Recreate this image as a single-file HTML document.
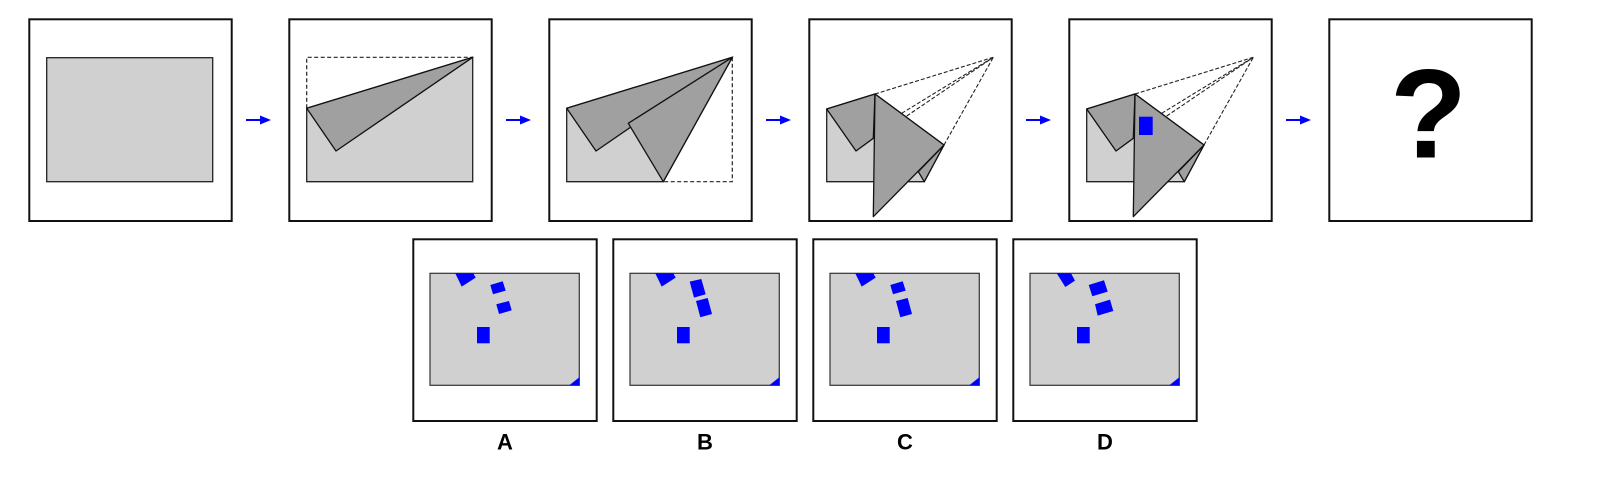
<!DOCTYPE html>
<html><head><meta charset="utf-8"><style>
html,body{margin:0;padding:0;background:#fff;width:1610px;height:490px;overflow:hidden}
svg{display:block}
text{font-family:"Liberation Sans",sans-serif;font-weight:bold}
</style></head><body>
<svg width="1610" height="490" viewBox="0 0 1610 490" xmlns="http://www.w3.org/2000/svg">
<defs>
  <g id="arrow"><line x1="0" y1="0" x2="17" y2="0" stroke="#0000ff" stroke-width="2"/><polygon points="14,-4.5 25,0 14,4.5" fill="#0000ff"/></g>
</defs>
<!-- Panel 1 -->
<g>
  <rect x="29.3" y="19.3" width="202.4" height="201.7" fill="#fff" stroke="#111" stroke-width="2"/>
  <rect x="46.7" y="57.7" width="166" height="124" fill="#d0d0d0" stroke="#222" stroke-width="1.3"/>
</g>
<use href="#arrow" x="246" y="120"/>
<!-- Panel 2 -->
<g>
  <rect x="289.3" y="19.3" width="202.4" height="201.7" fill="#fff" stroke="#111" stroke-width="2"/>
  <polygon points="306.7,108.3 472.7,57.3 472.7,181.7 306.7,181.7" fill="#d0d0d0" stroke="#222" stroke-width="1.3"/>
  <polyline points="306.7,108.3 306.7,57.3 472.7,57.3" fill="none" stroke="#222" stroke-width="1.2" stroke-dasharray="4,2.5"/>
  <polygon points="306.7,108.3 472.7,57.3 336,151" fill="#a0a0a0" stroke="#111" stroke-width="1.3" stroke-linejoin="round"/>
</g>
<use href="#arrow" x="506" y="120"/>
<!-- Panel 3 -->
<g>
  <rect x="549.3" y="19.3" width="202.4" height="201.7" fill="#fff" stroke="#111" stroke-width="2"/>
  <polygon points="566.7,108.3 732.3,57.3 663.3,181.7 566.7,181.7" fill="#d0d0d0" stroke="#222" stroke-width="1.3"/>
  <polyline points="732.3,57.3 732.3,181.7 663.3,181.7" fill="none" stroke="#222" stroke-width="1.2" stroke-dasharray="4,2.5"/>
  <polygon points="566.7,108.3 732.3,57.3 596,151" fill="#a0a0a0" stroke="#111" stroke-width="1.3" stroke-linejoin="round"/>
  <polygon points="628.3,123.3 732.3,57.3 663.3,181.7" fill="#a0a0a0" stroke="#111" stroke-width="1.3" stroke-linejoin="round"/>
</g>
<use href="#arrow" x="766" y="120"/>
<!-- Panel 4 & 5 -->
<g id="p4">
  <rect x="809.3" y="19.3" width="202.4" height="201.7" fill="#fff" stroke="#111" stroke-width="2"/>
  <polygon points="826.7,109 875,94 944,145 924.3,181.7 826.7,181.7" fill="#d0d0d0" stroke="#222" stroke-width="1.3"/>
  <g fill="none" stroke="#222" stroke-width="1.1" stroke-dasharray="4,2">
    <line x1="875" y1="94" x2="993.3" y2="57.3"/>
    <line x1="944" y1="145" x2="993.3" y2="57.3"/>
    <line x1="901.7" y1="113.3" x2="993.3" y2="57.3"/>
    <line x1="906.7" y1="116" x2="993.3" y2="57.3"/>
  </g>
  <polygon points="826.7,109 875,94 873.3,138.3 856,151" fill="#a0a0a0" stroke="#111" stroke-width="1.3" stroke-linejoin="round"/>
  <polygon points="918.3,171.7 924.3,181.7 944,145" fill="#a0a0a0" stroke="#111" stroke-width="1.3" stroke-linejoin="round"/>
  <polygon points="875,94 944,145 873.3,216.7" fill="#a0a0a0" stroke="#111" stroke-width="1.3" stroke-linejoin="round"/>
</g>
<use href="#arrow" x="1026" y="120"/>
<g>
  <use href="#p4" x="260" y="0"/>
  <rect x="1139" y="116.7" width="13.7" height="18.3" fill="#0000ff"/>
</g>
<use href="#arrow" x="1286" y="120"/>
<!-- Panel 6 -->
<g>
  <rect x="1329.3" y="19.3" width="202.4" height="201.7" fill="#fff" stroke="#111" stroke-width="2"/>
  <text x="1428.5" y="157.7" font-size="126" text-anchor="middle" fill="#000">?</text>
</g>
<!-- Options -->
<g id="optA" transform="translate(413.3,239.3)">
  <rect x="0" y="0" width="183.4" height="181.7" fill="#fff" stroke="#111" stroke-width="2"/>
  <g transform="translate(16.7,34)">
    <rect x="0" y="0" width="149.3" height="112" fill="#d0d0d0" stroke="#333" stroke-width="1.2"/>
    <polygon points="25.7,1 31.7,13.3 45.7,4.3 43.3,0 25.5,0" fill="#0000ff"/>
    <polygon points="60.3,11.7 63,21 75.7,17.3 72.7,8" fill="#0000ff"/>
    <polygon points="66.3,31 69,40.7 81.7,37 79,27.7" fill="#0000ff"/>
    <rect x="47" y="53.7" width="12.7" height="16.3" fill="#0000ff"/>
    <polygon points="139.3,112 149.3,112 149.3,104" fill="#0000ff"/>
  </g>
</g>
<g transform="translate(613.3,239.3)">
  <rect x="0" y="0" width="183.4" height="181.7" fill="#fff" stroke="#111" stroke-width="2"/>
  <g transform="translate(16.7,34)">
    <rect x="0" y="0" width="149.3" height="112" fill="#d0d0d0" stroke="#333" stroke-width="1.2"/>
    <polygon points="25.7,1 31.7,13.3 45.7,4.3 43.3,0 25.5,0" fill="#0000ff"/>
    <polygon points="59.7,8.3 64,24.3 75.7,21 71.3,5.7" fill="#0000ff"/>
    <polygon points="66,27.7 70.3,44 82,40.7 77.7,24.7" fill="#0000ff"/>
    <rect x="47" y="53.7" width="12.7" height="16.3" fill="#0000ff"/>
    <polygon points="139.3,112 149.3,112 149.3,104" fill="#0000ff"/>
  </g>
</g>
<g transform="translate(813.3,239.3)">
  <rect x="0" y="0" width="183.4" height="181.7" fill="#fff" stroke="#111" stroke-width="2"/>
  <g transform="translate(16.7,34)">
    <rect x="0" y="0" width="149.3" height="112" fill="#d0d0d0" stroke="#333" stroke-width="1.2"/>
    <polygon points="25.7,1 31.7,13.3 45.7,4.3 43.3,0 25.5,0" fill="#0000ff"/>
    <polygon points="60.3,11.7 63,21 75.7,17.3 72.7,8" fill="#0000ff"/>
    <polygon points="66,27.7 70.3,44 82,40.7 77.7,24.7" fill="#0000ff"/>
    <rect x="47" y="53.7" width="12.7" height="16.3" fill="#0000ff"/>
    <polygon points="139.3,112 149.3,112 149.3,104" fill="#0000ff"/>
  </g>
</g>
<g transform="translate(1013.3,239.3)">
  <rect x="0" y="0" width="183.4" height="181.7" fill="#fff" stroke="#111" stroke-width="2"/>
  <g transform="translate(16.7,34)">
    <rect x="0" y="0" width="149.3" height="112" fill="#d0d0d0" stroke="#333" stroke-width="1.2"/>
    <polygon points="26.7,0 35.3,13.7 45,7.3 41,0" fill="#0000ff"/>
    <polygon points="58.7,11.7 62.3,23 77.7,18.3 74,7" fill="#0000ff"/>
    <polygon points="65,31 67.7,42.3 83.3,37.7 80,26.3" fill="#0000ff"/>
    <rect x="47" y="53.7" width="12.7" height="16.3" fill="#0000ff"/>
    <polygon points="139.3,112 149.3,112 149.3,104" fill="#0000ff"/>
  </g>
</g>
<g font-size="22" text-anchor="middle" fill="#000">
  <text x="505" y="449.3">A</text>
  <text x="705" y="449.3">B</text>
  <text x="905" y="449.3">C</text>
  <text x="1105" y="449.3">D</text>
</g>
</svg>
</body></html>
